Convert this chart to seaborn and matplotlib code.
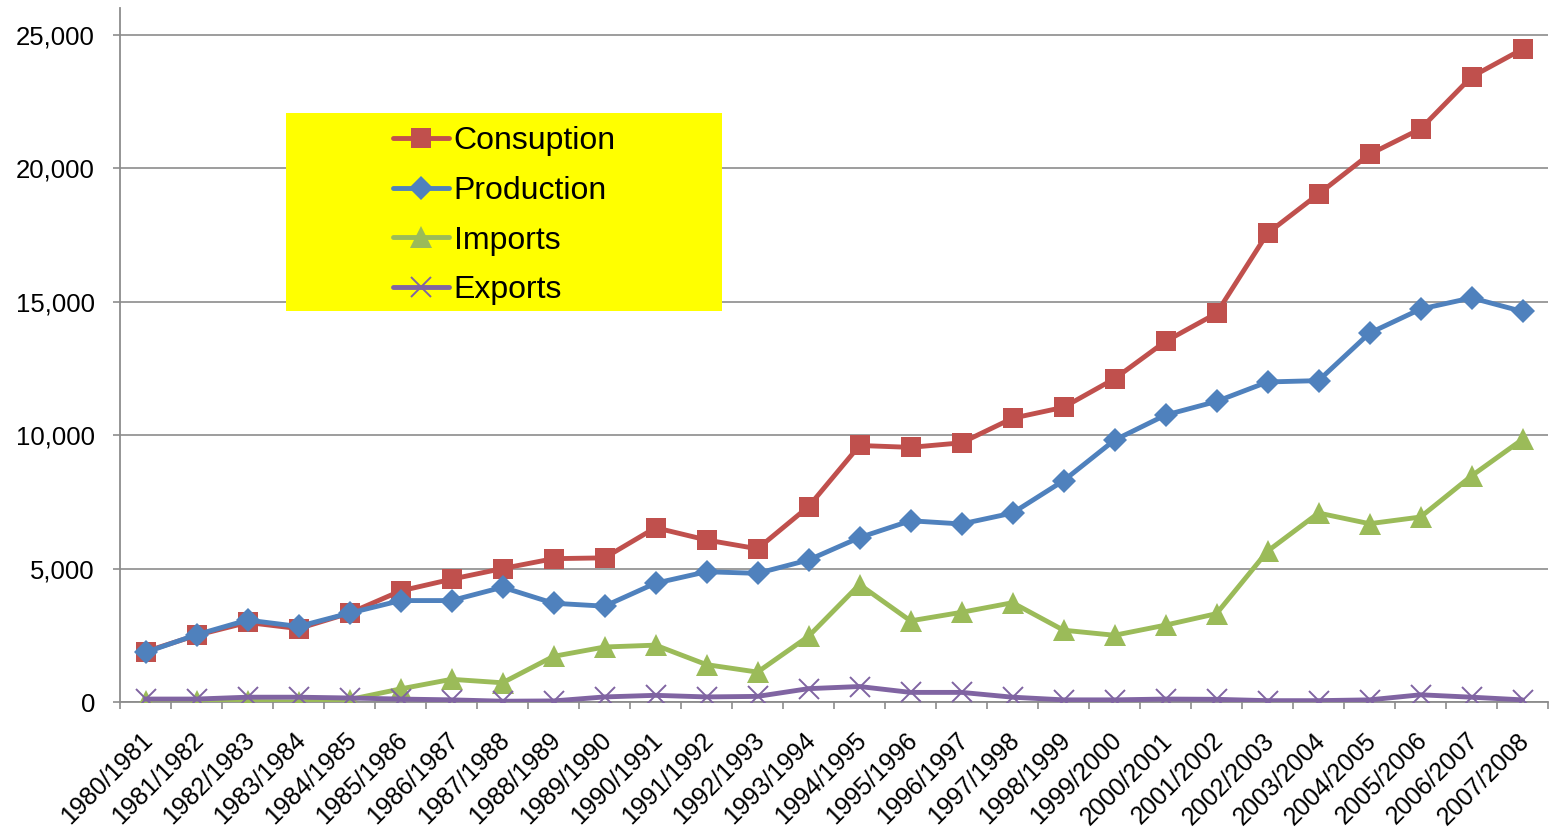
import numpy as np
import pandas as pd
import matplotlib
matplotlib.use('Agg')
import matplotlib.pyplot as plt
import matplotlib.transforms as mtransforms
from matplotlib.patches import Rectangle
from matplotlib.ticker import FuncFormatter, FixedLocator
import seaborn as sns

# season labels
seasons = ['1980/1981', '1981/1982', '1982/1983', '1983/1984', '1984/1985', '1985/1986',
           '1986/1987', '1987/1988', '1988/1989', '1989/1990', '1990/1991', '1991/1992',
           '1992/1993', '1993/1994', '1994/1995', '1995/1996', '1996/1997', '1997/1998',
           '1998/1999', '1999/2000', '2000/2001', '2001/2002', '2002/2003', '2003/2004',
           '2004/2005', '2005/2006', '2006/2007', '2007/2008']

# values
consumption = [1890, 2500, 2980, 2750, 3330, 4160, 4600, 5000, 5370, 5400, 6530, 6070, 5740, 7320,
               9610, 9540, 9710, 10630, 11040, 12110, 13510, 14560, 17560, 19030, 20520, 21470,
               23420, 24460]
production = [1860, 2520, 3070, 2830, 3330, 3800, 3800, 4300, 3700, 3590, 4450, 4880, 4820, 5320,
              6160, 6790, 6670, 7080, 8290, 9810, 10750, 11260, 11990, 12040, 13820, 14720,
              15140, 14630]
imports = [50, 30, 20, 0, 90, 490, 850, 720, 1710, 2060, 2130, 1400, 1120, 2460, 4400, 3040,
           3360, 3720, 2690, 2500, 2880, 3310, 5650, 7080, 6680, 6930, 8470, 9840]
exports = [110, 110, 180, 180, 150, 110, 80, 30, 40, 190, 250, 190, 210, 500, 580, 360, 360,
           180, 80, 80, 110, 100, 50, 50, 80, 270, 180, 80]

series_names = ['Consuption', 'Production', 'Imports', 'Exports']
colors = ['#C0504D', '#4F81BD', '#9BBB59', '#8064A2']

df = pd.DataFrame({'pos': np.arange(len(seasons)),
                   'Consuption': consumption, 'Production': production,
                   'Imports': imports, 'Exports': exports})

sns.set_style('white')
plt.rcParams['font.family'] = ['Liberation Sans', 'DejaVu Sans']
plt.rcParams['text.color'] = 'black'
plt.rcParams['xtick.labelcolor'] = 'black'
plt.rcParams['ytick.labelcolor'] = 'black'

fig = plt.figure(figsize=(15.49, 8.33), dpi=100)
ax = fig.add_axes([120 / 1549, 1 - 702 / 833, 1428 / 1549, 694 / 833])

marker_styles = {
    'Consuption': dict(marker='s', markersize=14.5, markeredgewidth=0),
    'Production': dict(marker='D', markersize=12, markeredgewidth=0),
    'Imports': dict(marker='^', markersize=16.5, markeredgewidth=0),
    'Exports': dict(marker='x', markersize=14, markeredgewidth=1.4),
}

for i, (name, col) in enumerate(zip(series_names, colors)):
    sns.lineplot(data=df, x='pos', y=name, ax=ax, color=col, linewidth=3.5,
                 label=name, zorder=3 + i, markeredgecolor=col, **marker_styles[name])

ax.set_xlim(-0.5, len(seasons) - 0.5)
ax.set_ylim(0, 26000)
ax.set_xlabel('')
ax.set_ylabel('')

# y axis
ax.set_yticks(np.arange(0, 25001, 5000))
ax.yaxis.set_major_formatter(FuncFormatter(lambda v, p: f'{int(v):,}'))
ax.yaxis.grid(True, color='#8c8c8c', linewidth=1.2)
ax.set_axisbelow(True)
ax.tick_params(axis='y', direction='out', length=5, width=1.2, color='#8c8c8c',
               labelsize=18.5, pad=13, left=True)

# x axis: labels at categories, tick marks between them
ax.set_xticks(np.arange(len(seasons)))
ax.set_xticklabels(seasons, rotation=45, ha='right', va='center', rotation_mode='anchor')
ax.xaxis.set_minor_locator(FixedLocator(np.arange(-0.5, len(seasons), 1.0)))
ax.tick_params(axis='x', which='major', length=0, labelsize=18, pad=25)
ax.tick_params(axis='x', which='minor', direction='out', length=5, width=1.2,
               color='#8c8c8c', bottom=True)
shift = mtransforms.ScaledTranslation(3 / 100, 0, fig.dpi_scale_trans)
for lab in ax.get_xticklabels():
    lab.set_transform(lab.get_transform() + shift)

for s in ['top', 'right']:
    ax.spines[s].set_visible(False)
for s in ['left', 'bottom']:
    ax.spines[s].set_color('#8c8c8c')
    ax.spines[s].set_linewidth(1.3)

# yellow legend box
x0, x1 = (286 - 120) / 1428, (722 - 120) / 1428
y0, y1 = (702 - 311) / 694, (702 - 113) / 694
ax.add_patch(Rectangle((x0, y0), x1 - x0, y1 - y0, transform=ax.transAxes,
                       facecolor='#FFFF00', edgecolor='none', zorder=2))
ax.legend(loc='upper left', bbox_to_anchor=((393 - 120) / 1428, (702 - 126) / 694),
          frameon=False, fontsize=23, borderpad=0, borderaxespad=0,
          handlelength=1.75, handletextpad=0.15, labelspacing=0.62)

fig.savefig('out.png', dpi=100)
